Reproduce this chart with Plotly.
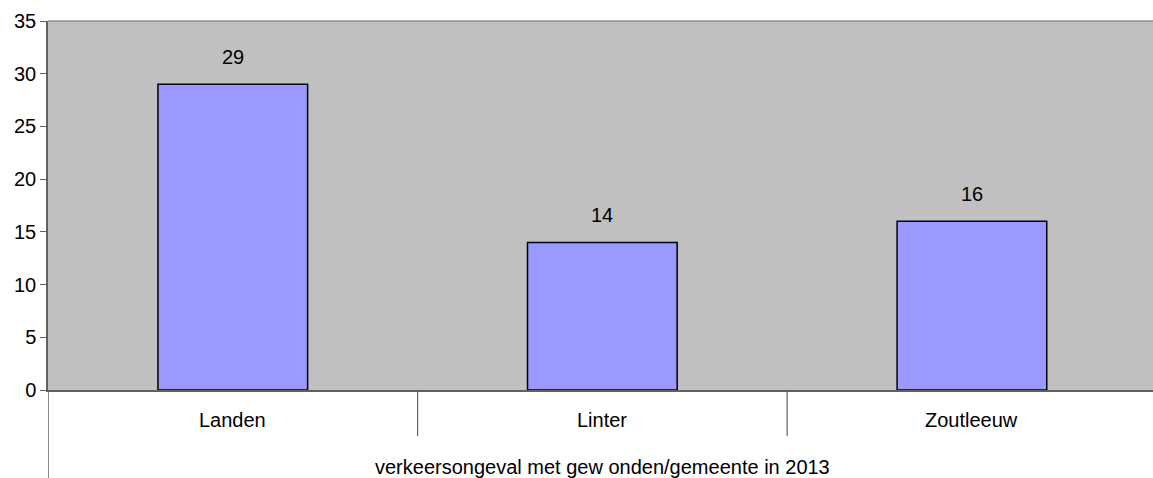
import plotly.graph_objects as go

categories = ["Landen", "Linter", "Zoutleeuw"]
values = [29, 14, 16]
group_label = "verkeersongeval met gew onden/gemeente in 2013"
y_ticks = [0, 5, 10, 15, 20, 25, 30, 35]

FONT = "Liberation Sans, Arial, sans-serif"
FS = 20
W, H = 1153, 478
ML, MT, MB, MR = 48, 21, 88, 0
plot_h = H - MT - MB

def py(px_below):
    return -px_below / plot_h

xs = list(range(len(categories)))

fig = go.Figure()
fig.add_trace(go.Bar(
    x=xs, y=values, width=0.405,
    marker=dict(color="#9999FF", line=dict(color="#000000", width=1.5)),
    hoverinfo="skip",
))

annotations = []
for i, v in zip(xs, values):
    annotations.append(dict(x=i, y=v, xref="x", yref="y", text=str(v),
                            showarrow=False, yanchor="middle", yshift=27,
                            font=dict(family=FONT, size=FS, color="#000000")))
for i, c in zip(xs, categories):
    annotations.append(dict(x=i, y=py(30), xref="x", yref="paper", text=c,
                            showarrow=False, yanchor="middle",
                            font=dict(family=FONT, size=FS, color="#000000")))
annotations.append(dict(x=(xs[0] + xs[-1]) / 2, y=py(77), xref="x", yref="paper",
                        text=group_label, showarrow=False, yanchor="middle",
                        font=dict(family=FONT, size=FS, color="#000000")))

shapes = [
    dict(type="line", xref="x", yref="paper", x0=-0.5, x1=-0.5, y0=0, y1=py(88),
         line=dict(color="#606060", width=1.5)),
    dict(type="line", xref="paper", yref="paper", x0=0, x1=1, y0=1, y1=1,
         line=dict(color="#909090", width=1.5)),
]
for d in [0.5, 1.5]:
    shapes.append(dict(type="line", xref="x", yref="paper", x0=d, x1=d, y0=0, y1=py(46),
                       line=dict(color="#606060", width=1.2)))

fig.update_layout(
    width=W, height=H,
    margin=dict(l=ML, r=MR, t=MT, b=MB, pad=0),
    paper_bgcolor="#FFFFFF", plot_bgcolor="#C0C0C0",
    showlegend=False,
    font=dict(family=FONT, size=FS, color="#000000"),
    annotations=annotations, shapes=shapes,
    xaxis=dict(range=[-0.5, 2.49], showticklabels=False, ticks="", showgrid=False,
               zeroline=False, showline=True, linecolor="#606060", linewidth=1.5,
               fixedrange=True),
    yaxis=dict(range=[0, 35], tickvals=y_ticks, ticks="outside", ticklen=6,
               tickcolor="#606060", showgrid=False, zeroline=False,
               showline=True, linecolor="#606060", linewidth=1.5,
               tickfont=dict(family=FONT, size=FS, color="#000000"), fixedrange=True),
)

fig.write_html("out.html", config={"displayModeBar": False},
               post_script="document.body.style.margin='0';document.body.style.overflow='hidden';")
